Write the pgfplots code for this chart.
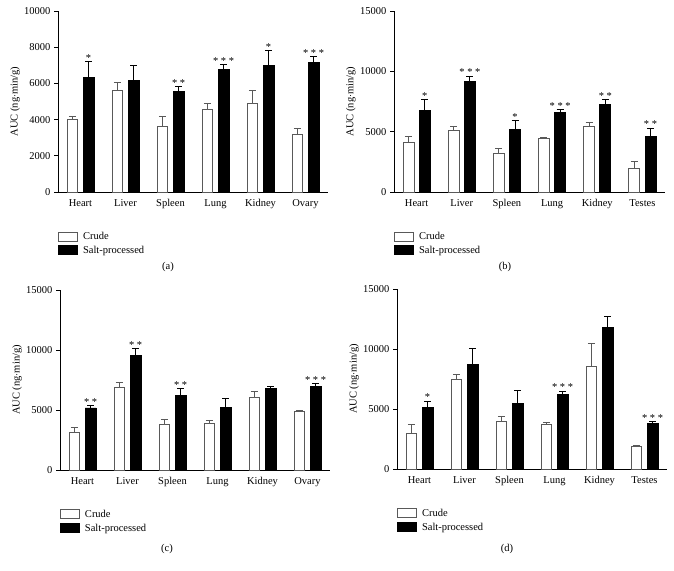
\documentclass[border=0pt]{standalone}
\usepackage{fontspec}
\setmainfont{Liberation Serif}
\usepackage{pgfplots}
\usepackage{pgfplotstable}
\pgfplotsset{compat=1.18}

\pgfplotstableread{
x c ce s se
0 4000 150 6330 880
1 5590 460 6180 790
2 3650 500 5550 260
3 4560 330 6770 280
4 4890 740 6970 850
5 3170 330 7180 290
}\dataA
\pgfplotstableread{
x y l
0.18 7210 *
2.18 5810 **
3.18 7050 ***
4.18 7820 *
5.18 7470 ***
}\starsA

\pgfplotstableread{
x c ce s se
0 4150 420 6730 910
1 5090 310 9130 470
2 3210 440 5180 720
3 4480 30 6560 280
4 5420 340 7250 440
5 1970 600 4590 720
}\dataB
\pgfplotstableread{
x y l
0.18 7640 *
1.18 9600 ***
2.18 5900 *
3.18 6840 ***
4.18 7690 **
5.18 5310 **
}\starsB

\pgfplotstableread{
x c ce s se
0 3170 390 5170 190
1 6890 420 9560 580
2 3810 380 6190 620
3 3890 250 5220 750
4 6060 470 6830 140
5 4920 50 6970 250
}\dataC
\pgfplotstableread{
x y l
0.18 5360 **
1.18 10140 **
2.18 6810 **
5.18 7220 ***
}\starsC

\pgfplotstableread{
x c ce s se
0 2990 750 5100 560
1 7430 470 8730 1330
2 3960 420 5430 1090
3 3690 190 6240 250
4 8590 1890 11810 890
5 1860 140 3800 140
}\dataD
\pgfplotstableread{
x y l
0.18 5660 *
3.18 6490 ***
5.18 3940 ***
}\starsD

\newcommand{\txt}{\fontsize{10.5}{12}\selectfont}
\colorlet{crudeline}{black!65}

\pgfplotsset{
  panel/.style={
    scale only axis,
    anchor=south west,
    xmin=-0.5, xmax=5.5, ymin=0,
    axis x line=bottom, axis y line=left,
    axis line style={-, line width=0.8pt},
    xtick={0,1,2,3,4,5},
    major x tick style={draw=none},
    ytick style={line width=0.8pt, black},
    tick align=outside,
    major tick length=4pt,
    scaled y ticks=false,
    /pgf/number format/assume math mode=true,
    /pgf/number format/set thousands separator={},
    tick label style={font=\txt},
    ylabel={AUC (ng$\cdot$min/g)},
    ylabel style={font=\txt, at={(axis description cs:-0.159,0.5)}, anchor=center},
    clip=false,
    legend cell align=left,
    legend style={draw=none, fill=none, at={(axis description cs:0,-0.21)}, anchor=north west,
      inner sep=0pt, row sep=1pt, font=\txt, nodes={inner sep=2pt},
      /tikz/every odd column/.append style={column sep=3pt}},
  },
  crudebar/.style={ybar, bar width=0.244, bar shift=0pt, fill=white, draw=crudeline, line width=0.8pt,
    error bars/y dir=plus, error bars/y explicit,
    error bars/error bar style={line width=0.8pt, draw=crudeline},
    error bars/error mark options={rotate=90, mark size=3.5pt, line width=0.8pt, draw=crudeline}},
  saltbar/.style={ybar, bar width=0.244, bar shift=0pt, fill=black, draw=black, line width=0.8pt,
    error bars/y dir=plus, error bars/y explicit,
    error bars/error bar style={line width=0.8pt, draw=black},
    error bars/error mark options={rotate=90, mark size=3.5pt, line width=0.8pt, draw=black}},
  stars/.style={draw=none, mark=none, nodes near coords, point meta=explicit symbolic,
    nodes near coords style={anchor=south, inner sep=0pt, font=\txt\addfontfeature{LetterSpace=25}}},
}

\newcommand{\legendentries}{%
  \addlegendimage{legend image code/.code={\draw[draw=crudeline, fill=white, line width=0.8pt] (0pt,-4.5pt) rectangle (19pt,4.5pt);}}
  \addlegendentry{Crude}
  \addlegendimage{legend image code/.code={\draw[draw=black, fill=black, line width=0.8pt] (0pt,-4.5pt) rectangle (19pt,4.5pt);}}
  \addlegendentry{Salt-processed}
}

\begin{document}
\begin{tikzpicture}
\path[use as bounding box] (0pt,0pt) rectangle (674pt,570pt);

% (a)
\begin{axis}[panel, at={(58pt,378pt)}, width=270pt, height=181pt,
  ymax=10000, ytick={0,2000,4000,6000,8000,10000},
  xticklabels={Heart,Liver,Spleen,Lung,Kidney,Ovary}]
\legendentries
\addplot[forget plot, crudebar] table[x expr=\thisrow{x}-0.18, y=c, y error=ce]{\dataA};
\addplot[forget plot, saltbar] table[x expr=\thisrow{x}+0.18, y=s, y error=se]{\dataA};
\addplot[forget plot, stars] table[x=x, y=y, meta=l]{\starsA};
\end{axis}

% (b)
\begin{axis}[panel, at={(394pt,378pt)}, width=271pt, height=181pt,
  ymax=15000, ytick={0,5000,10000,15000},
  xticklabels={Heart,Liver,Spleen,Lung,Kidney,Testes}]
\legendentries
\addplot[forget plot, crudebar] table[x expr=\thisrow{x}-0.18, y=c, y error=ce]{\dataB};
\addplot[forget plot, saltbar] table[x expr=\thisrow{x}+0.18, y=s, y error=se]{\dataB};
\addplot[forget plot, stars] table[x=x, y=y, meta=l]{\starsB};
\end{axis}

% (c)
\begin{axis}[panel, at={(60pt,100pt)}, width=270pt, height=180pt,
  ymax=15000, ytick={0,5000,10000,15000},
  xticklabels={Heart,Liver,Spleen,Lung,Kidney,Ovary}]
\legendentries
\addplot[forget plot, crudebar] table[x expr=\thisrow{x}-0.18, y=c, y error=ce]{\dataC};
\addplot[forget plot, saltbar] table[x expr=\thisrow{x}+0.18, y=s, y error=se]{\dataC};
\addplot[forget plot, stars] table[x=x, y=y, meta=l]{\starsC};
\end{axis}

% (d)
\begin{axis}[panel, at={(397pt,101pt)}, width=270pt, height=180pt,
  ymax=15000, ytick={0,5000,10000,15000},
  xticklabels={Heart,Liver,Spleen,Lung,Kidney,Testes}]
\legendentries
\addplot[forget plot, crudebar] table[x expr=\thisrow{x}-0.18, y=c, y error=ce]{\dataD};
\addplot[forget plot, saltbar] table[x expr=\thisrow{x}+0.18, y=s, y error=se]{\dataD};
\addplot[forget plot, stars] table[x=x, y=y, meta=l]{\starsD};
\end{axis}

\node[font=\txt] at (168pt,303pt) {(a)};
\node[font=\txt] at (505pt,303pt) {(b)};
\node[font=\txt] at (167pt,21pt) {(c)};
\node[font=\txt] at (507pt,21pt) {(d)};
\end{tikzpicture}
\end{document}
